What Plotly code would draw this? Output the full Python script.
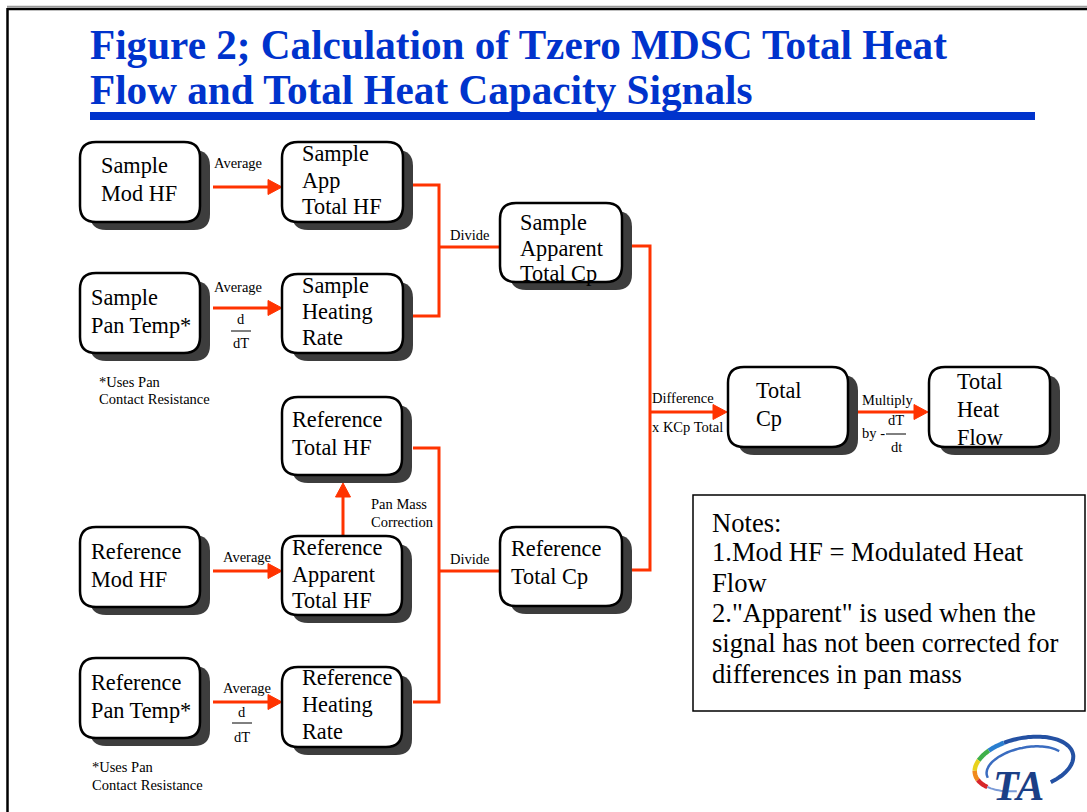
import numpy as np
import plotly.graph_objects as go

W, H = 1087, 812

# ---------------- content ----------------
title_lines = ["Figure 2; Calculation of Tzero MDSC Total Heat",
               "Flow and Total Heat Capacity Signals"]

node_labels = [
    ["Sample", "Mod HF"],
    ["Sample", "App", "Total HF"],
    ["Sample", "Pan Temp*"],
    ["Sample", "Heating", "Rate"],
    ["Sample", "Apparent", "Total Cp"],
    ["Reference", "Total HF"],
    ["Reference", "Mod HF"],
    ["Reference", "Apparent", "Total HF"],
    ["Reference", "Pan Temp*"],
    ["Reference", "Heating", "Rate"],
    ["Reference", "Total Cp"],
    ["Total", "Cp"],
    ["Total", "Heat", "Flow"],
]

edge_labels = ["Average", "Average", "Divide", "Difference", "x KCp Total",
               "Multiply", "by -", "Pan Mass", "Correction", "Average",
               "Average", "Divide"]
footnote_lines = ["*Uses Pan", "Contact Resistance"]
notes_lines = ["Notes:", "1.Mod HF = Modulated Heat", "Flow",
               "2.\"Apparent\" is used when the",
               "signal has not been corrected for",
               "differences in pan mass"]

# ---------------- layout (pixel positions) ----------------
node_boxes = [
    (80, 142, 200, 222), (282, 142, 403, 222), (80, 273, 200, 353),
    (282, 274, 403, 353), (500, 203, 622, 282), (282, 397, 402, 475),
    (80, 527, 200, 607), (282, 536, 402, 615), (80, 658, 200, 738),
    (282, 667, 402, 747), (500, 527, 622, 606), (728, 367, 848, 447),
    (929, 367, 1050, 447),
]
node_text_x = [99, 300, 89, 300, 518, 290, 89, 290, 89, 300, 509, 754, 955]
node_text_y = [
    [165, 193], [153, 180, 206], [297, 325], [285, 311, 337],
    [222, 248, 273], [419, 447], [551, 579], [547, 574, 600],
    [682, 710], [677, 704, 731], [548, 576], [390, 418], [381, 409, 437],
]

edge_label_pos = [  # (x, y, anchor)
    (238, 163, "center"), (238, 287, "center"), (469, 235, "center"),
    (650, 398, "left"), (650, 427, "left"), (860, 400, "left"),
    (860, 433, "left"), (369, 504, "left"), (369, 522, "left"),
    (247, 557, "center"), (247, 688, "center"), (469, 559, "center"),
]
# d/dT fractions: (x center, y numerator, y line, y denominator, num, den)
fractions = [(241, 319, 331, 343, "d", "dT"), (242, 712, 723, 737, "d", "dT"),
             (896, 420, 434, 447, "dT", "dt")]
footnote_pos = [(97, 382, 399), (90, 767, 785)]

# connector polylines (no arrowheads)
plain_lines = [
    [(413, 185), (439, 185), (439, 316), (413, 316)],
    [(439, 247), (500, 247)],
    [(632, 246), (650, 246), (650, 570), (632, 570)],
    [(413, 448), (439, 448), (439, 702), (413, 702)],
    [(439, 571), (500, 571)],
]
# arrows: (x0,y0) -> (x1,y1) tip
arrows = [
    ((213, 187), (282, 187)), ((213, 308), (282, 308)),
    ((213, 571), (282, 571)), ((213, 702), (282, 702)),
    ((650, 412), (727, 412)), ((858, 412), (928, 412)),
    ((343, 535), (343, 483)),
]

RED = "#FF3300"
BLUE = "#0033CC"
SERIF = "Liberation Serif"

fig = go.Figure()
shapes = []
annos = []


def rrect(x0, y0, x1, y1, r):
    return (f"M{x0+r},{y0} L{x1-r},{y0} Q{x1},{y0} {x1},{y0+r} "
            f"L{x1},{y1-r} Q{x1},{y1} {x1-r},{y1} L{x0+r},{y1} "
            f"Q{x0},{y1} {x0},{y1-r} L{x0},{y0+r} Q{x0},{y0} {x0+r},{y0} Z")


# frame
shapes.append(dict(type="line", x0=7, x1=W, y0=6.5, y1=6.5,
                   line=dict(color="#999999", width=1.5)))
shapes.append(dict(type="line", x0=7, x1=W, y0=9, y1=9,
                   line=dict(color="black", width=2.5)))
shapes.append(dict(type="line", x0=7.5, x1=7.5, y0=8, y1=H,
                   line=dict(color="black", width=2.5)))

# title
for txt, yy in zip(title_lines, [45, 90]):
    annos.append(dict(x=88, y=yy, text=f"<b>{txt}</b>", showarrow=False,
                      xanchor="left", yanchor="middle",
                      font=dict(family=SERIF, size=41.2, color=BLUE)))
shapes.append(dict(type="rect", x0=90, x1=1035, y0=112, y1=120,
                   fillcolor=BLUE, line=dict(width=0)))

# connectors
for pts in plain_lines:
    p = "M" + " L".join(f"{x},{y}" for x, y in pts)
    shapes.append(dict(type="path", path=p, line=dict(color=RED, width=3)))

for (x0, y0), (x1, y1) in arrows:
    L = 14
    hw = 7.5
    dx, dy = x1 - x0, y1 - y0
    n = (dx**2 + dy**2) ** 0.5
    ux, uy = dx / n, dy / n
    bx, by = x1 - ux * L, y1 - uy * L
    shapes.append(dict(type="line", x0=x0, y0=y0, x1=bx, y1=by,
                       line=dict(color=RED, width=3)))
    px, py = -uy, ux
    tri = (f"M{x1},{y1} L{bx+px*hw},{by+py*hw} L{bx-px*hw},{by-py*hw} Z")
    shapes.append(dict(type="path", path=tri, fillcolor=RED,
                       line=dict(color=RED, width=1)))

# boxes
for (x0, y0, x1, y1) in node_boxes:
    shapes.append(dict(type="path", path=rrect(x0 + 10, y0 + 8, x1 + 10, y1 + 8, 16),
                       fillcolor="#3d3d3d", line=dict(width=0)))
for (x0, y0, x1, y1) in node_boxes:
    shapes.append(dict(type="path", path=rrect(x0, y0, x1, y1, 16),
                       fillcolor="white", line=dict(color="black", width=2.5)))
for lines, tx, tys in zip(node_labels, node_text_x, node_text_y):
    for t, ty in zip(lines, tys):
        annos.append(dict(x=tx, y=ty, text=t, showarrow=False,
                          xanchor="left", yanchor="middle",
                          font=dict(family=SERIF, size=22.3, color="black")))

# edge labels
for t, (x, y, a) in zip(edge_labels, edge_label_pos):
    annos.append(dict(x=x, y=y, text=t, showarrow=False, xanchor=a,
                      yanchor="middle",
                      font=dict(family=SERIF, size=14.5, color="black")))
for (x, yn, yl, yd, num, den) in fractions:
    annos.append(dict(x=x, y=yn, text=num, showarrow=False, yanchor="middle",
                      font=dict(family=SERIF, size=14.5, color="black")))
    annos.append(dict(x=x, y=yd, text=den, showarrow=False, yanchor="middle",
                      font=dict(family=SERIF, size=14.5, color="black")))
    shapes.append(dict(type="line", x0=x - 10, x1=x + 10, y0=yl, y1=yl,
                       line=dict(color="black", width=1)))
for (x, y1, y2) in footnote_pos:
    for t, yy in zip(footnote_lines, [y1, y2]):
        annos.append(dict(x=x, y=yy, text=t, showarrow=False, xanchor="left",
                          yanchor="middle",
                          font=dict(family=SERIF, size=14.5, color="black")))

# notes box
shapes.append(dict(type="rect", x0=693, x1=1085, y0=495, y1=711,
                   fillcolor="white", line=dict(color="black", width=1.5)))
for t, yy in zip(notes_lines, [523, 552, 583, 613, 643, 674]):
    annos.append(dict(x=710, y=yy, text=t, showarrow=False, xanchor="left",
                      yanchor="middle",
                      font=dict(family=SERIF, size=26.6, color="black")))

# logo (decorative)
cx, cy, rx, ry, rot = 1024, 764, 50, 26, -0.2


def ell(t, sx=1.0, sy=1.0, dx=0.0, dy=0.0):
    x = rx * sx * np.cos(t)
    y = -ry * sy * np.sin(t)
    return (cx + dx + x * np.cos(rot) - y * np.sin(rot),
            cy + dy + x * np.sin(rot) + y * np.cos(rot))


def arcpath(xs, ys):
    return "M" + " L".join(f"{a:.1f},{b:.1f}" for a, b in zip(xs, ys))


# outer blue arc (right + top)
xs, ys = ell(np.linspace(-0.35 * np.pi, 0.6 * np.pi, 60))
shapes.append(dict(type="path", path=arcpath(xs, ys),
                   line=dict(color="#2451a3", width=4)))
# rainbow on the left
rain = ["#2a7fd0", "#3fb04a", "#e8d21c", "#f08a1c", "#d8262a"]
segs = np.linspace(0.6 * np.pi, 1.2 * np.pi, len(rain) + 1)
for i, c in enumerate(rain):
    xs, ys = ell(np.linspace(segs[i], segs[i + 1], 12))
    shapes.append(dict(type="path", path=arcpath(xs, ys),
                       line=dict(color=c, width=4.5)))
# lower-left tail
xs, ys = ell(np.linspace(1.2 * np.pi, 1.42 * np.pi, 15))
shapes.append(dict(type="path", path=arcpath(xs, ys),
                   line=dict(color="#7a9ad6", width=2)))
# inner swoosh
xs, ys = ell(np.linspace(0.15 * np.pi, 1.05 * np.pi, 50), 0.8, 0.75, 2, 3)
shapes.append(dict(type="path", path=arcpath(xs, ys),
                   line=dict(color="#3a6cc0", width=2.5)))
annos.append(dict(x=1018, y=786, text="<b><i>TA</i></b>", showarrow=False,
                  font=dict(family=SERIF, size=42, color="#1b3f86")))

fig.update_layout(
    width=W, height=H, margin=dict(l=0, r=0, t=0, b=0),
    paper_bgcolor="white", plot_bgcolor="white",
    xaxis=dict(range=[0, W], visible=False, fixedrange=True),
    yaxis=dict(range=[H, 0], visible=False, fixedrange=True),
    shapes=shapes, annotations=annos, showlegend=False,
)
fig.write_html("out.html", post_script="document.body.style.margin='0';",
               config={"displayModeBar": False})
